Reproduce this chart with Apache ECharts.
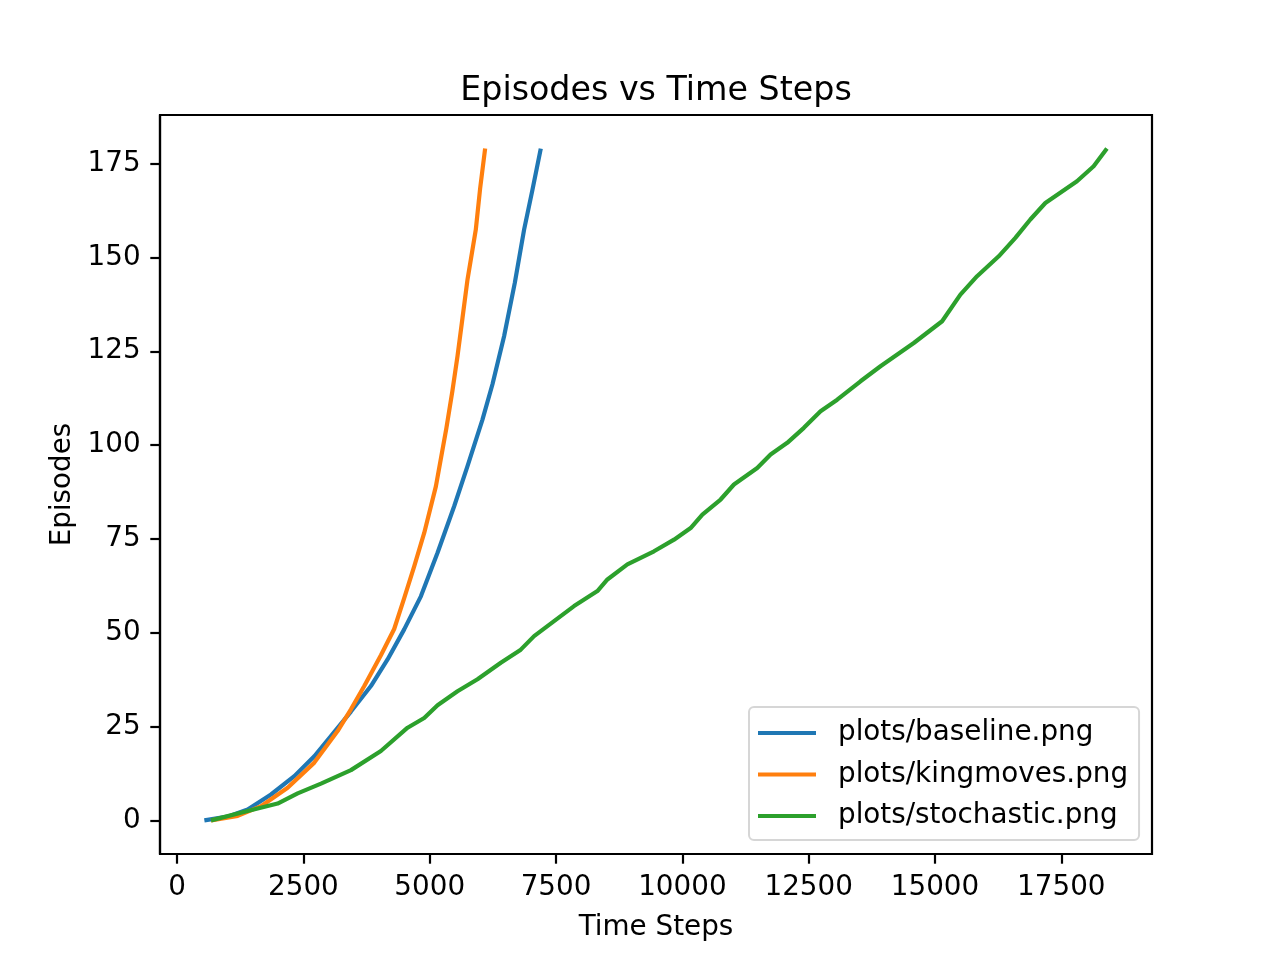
<!DOCTYPE html>
<html lang="en">
<head>
<meta charset="UTF-8">
<title>Episodes vs Time Steps</title>
<script src="https://cdn.jsdelivr.net/npm/echarts@6/dist/echarts.min.js"></script>
<style>
  html, body { margin: 0; padding: 0; background: #fff; }
  #chart { width: 1280px; height: 960px; }
</style>
</head>
<body>
<div id="chart"></div>
<script type="text/javascript">
  // values
  var baselineSteps = [540, 1000, 1397, 1859, 2320, 2716, 3045, 3441, 3836, 4166, 4495, 4825, 5155, 5484, 5748, 6044, 6242, 6472, 6684, 6868, 7033, 7198];
  var baselineEpisodes = [0, 1, 2.9, 6.9, 11.8, 17.1, 22.5, 29, 35.8, 42.9, 50.9, 59.7, 71.3, 83.7, 94.4, 106.8, 116.2, 129, 143.2, 157.4, 168, 179];

  var kingSteps = [672, 1200, 1661, 2188, 2716, 3177, 3441, 3705, 4034, 4297, 4495, 4693, 4891, 5122, 5330, 5450, 5550, 5649, 5748, 5912, 5998, 6097];
  var kingEpisodes = [0, 1.2, 3.8, 8.7, 15.4, 23.8, 29.6, 35.8, 44, 51, 59.2, 67.7, 76.6, 89, 104.5, 114.5, 123.7, 133.9, 144.1, 157.4, 168.4, 179];

  var stochSteps = [672, 1397, 1990, 2386, 2848, 3441, 4034, 4562, 4891, 5155, 5550, 5946, 6407, 6802, 7066,
    7461, 7857, 8319, 8517, 8912, 9439, 9835, 10164, 10396, 10757, 11021, 11482, 11746, 12076, 12405,
    12735, 13065, 13526, 13921, 14580, 15141, 15503, 15833, 16261, 16591, 16887, 17184, 17810, 18140, 18403];
  var stochEpisodes = [0, 2.5, 4.5, 7.2, 9.8, 13.4, 18.5, 24.7, 27.3, 30.7, 34.4, 37.6, 42, 45.5, 49.1,
    53.1, 57.1, 61.1, 64.2, 68.2, 71.7, 74.8, 77.9, 81.5, 85.5, 89.5, 93.9, 97.5, 100.6, 104.6,
    109, 112.1, 117, 121, 127.2, 133, 140.1, 145, 150.3, 155.2, 160.1, 164.5, 170.3, 174.3, 179];

  var xTicks = [0, 2500, 5000, 7500, 10000, 12500, 15000, 17500];
  var yTicks = [0, 25, 50, 75, 100, 125, 150, 175];

  function pairs(xs, ys) {
    return xs.map(function (x, i) { return [x, ys[i]]; });
  }

  var font = 'DejaVu Sans';
  var chart = echarts.init(document.getElementById('chart'), null, { renderer: 'canvas' });

  function lineSeries(name, color, xs, ys) {
    return {
      name: name,
      type: 'line',
      data: pairs(xs, ys),
      showSymbol: false,
      symbol: 'none',
      lineStyle: { color: color, width: 4.2, join: 'round', cap: 'butt' },
      itemStyle: { color: color },
      animation: false
    };
  }

  function plain(v) { return String(v); }

  chart.setOption({
    animation: false,
    backgroundColor: '#fff',
    title: {
      text: 'Episodes vs Time Steps',
      left: 656,
      textAlign: 'center',
      top: 75,
      padding: 0,
      textStyle: { fontFamily: font, fontSize: 33.3, fontWeight: 'normal', color: '#000' }
    },
    grid: {
      left: 160, top: 115, right: 128, bottom: 106,
      show: true, borderColor: '#000', borderWidth: 2.2, backgroundColor: '#fff'
    },
    legend: {
      orient: 'vertical',
      left: 749,
      top: 707,
      padding: [12, 11, 10, 9],
      itemGap: 13.5,
      itemWidth: 58,
      itemHeight: 4,
      icon: 'rect',
      backgroundColor: '#fff',
      borderColor: '#d6d6d6',
      borderWidth: 2,
      borderRadius: 5,
      textStyle: { fontFamily: font, fontSize: 27.8, color: '#000', lineHeight: 28, padding: [0, 0, 0, 17] },
      data: ['plots/baseline.png', 'plots/kingmoves.png', 'plots/stochastic.png']
    },
    xAxis: {
      type: 'value',
      min: -338,
      max: 19295,
      name: 'Time Steps',
      nameLocation: 'middle',
      nameGap: 60,
      nameTextStyle: { fontFamily: font, fontSize: 27.8, color: '#000' },
      splitLine: { show: false },
      axisLine: { show: true, onZero: false, lineStyle: { color: '#000', width: 2.2 } },
      axisTick: { show: true, length: 9.7, customValues: xTicks, lineStyle: { color: '#000', width: 2.2 } },
      axisLabel: { customValues: xTicks, formatter: plain, margin: 19.4, fontFamily: font, fontSize: 27.8, color: '#000' }
    },
    yAxis: {
      type: 'value',
      min: -8.95,
      max: 187.95,
      name: 'Episodes',
      nameLocation: 'middle',
      nameGap: 80,
      nameTextStyle: { fontFamily: font, fontSize: 27.8, color: '#000' },
      splitLine: { show: false },
      axisLine: { show: true, onZero: false, lineStyle: { color: '#000', width: 2.2 } },
      axisTick: { show: true, length: 9.7, customValues: yTicks, lineStyle: { color: '#000', width: 2.2 } },
      axisLabel: { customValues: yTicks, formatter: plain, margin: 19.4, fontFamily: font, fontSize: 27.8, color: '#000' }
    },
    series: [
      lineSeries('plots/baseline.png', '#1f77b4', baselineSteps, baselineEpisodes),
      lineSeries('plots/kingmoves.png', '#ff7f0e', kingSteps, kingEpisodes),
      lineSeries('plots/stochastic.png', '#2ca02c', stochSteps, stochEpisodes)
    ]
  });
</script>
</body>
</html>
